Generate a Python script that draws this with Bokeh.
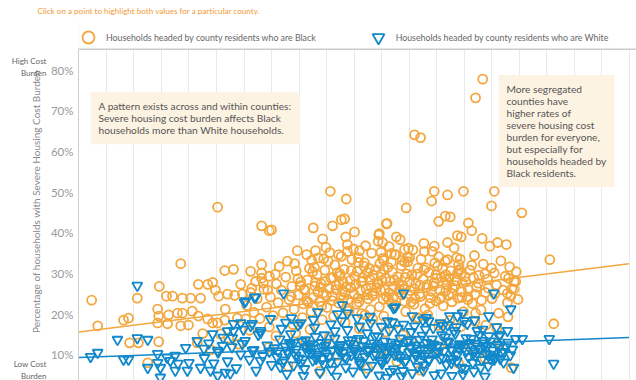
from bokeh.plotting import figure
from bokeh.models import (ColumnDataSource, Range1d, FixedTicker, PrintfTickFormatter,
                          Label, Legend, LegendItem, LinearAxis, Span, BoxAnnotation)
from bokeh.embed import file_html
from bokeh.resources import INLINE

# ---- data: x = county segregation index (0-100), y = % households with severe cost burden
black_x = [73.4,72.1,61.0,62.1,25.2,45.7,48.6,64.6,69.9,75.5,80.5,75.0,59.5,48.3,50.1,46.1,54.5,56.0,66.6,65.4,71.4,69.5,76.1,85.6,86.3,
    42.6,47.7,44.3,48.5,48.8,39.7,43.0,42.3,39.2,55.9,54.6,55.2,57.7,59.2,56.8,57.4,55.4,60.1,64.1,67.0,67.5,70.8,68.8,67.0,62.8,65.4,67.0,69.0,69.5,47.2,48.8,51.0,50.8,35.0,
    33.2,34.6,18.5,26.5,28.1,31.2,33.2,14.6,10.6,2.3,21.7,23.4,24.3,24.8,15.9,17.0,18.8,20.3,22.1,25.4,27.0,28.3,29.4,29.7,31.4,32.1,33.2,34.6,35.7,33.5,34.3,
    3.4,8.1,9.0,9.2,10.8,12.5,14.5,14.3,14.5,14.3,16.1,16.3,17.9,18.8,18.5,19.9,20.6,21.7,21.5,23.4,24.3,25.2,26.5,25.7,26.6,28.8,30.3,
    30.5,31.2,31.8,32.4,32.9,33.6,34.1,34.8,35.3,35.9,36.2,36.8,37.1,37.6,38.2,38.7,39.1,39.5,39.9,40.3,36.4,37.9,34.6,38.9,33.2,40.6,
    40.8,41.1,41.5,41.9,42.2,42.6,42.9,43.3,43.7,44.0,44.4,44.7,45.1,45.4,45.8,46.1,46.5,46.8,47.2,47.5,47.9,48.2,48.6,48.9,49.3,49.6,50.0,43.5,45.6,47.7,44.2,46.3,48.4,42.0,49.1,41.4,44.9,46.9,43.0,48.0,
    50.3,50.6,50.9,51.2,51.6,51.9,52.2,52.6,52.9,53.2,53.6,53.9,54.2,54.6,54.9,55.2,55.6,55.9,56.2,56.6,56.9,57.2,57.6,57.9,58.2,58.6,58.9,59.2,59.6,59.9,51.4,53.4,55.4,57.4,59.4,52.1,54.4,56.4,58.4,50.8,52.8,54.8,56.8,58.8,53.1,55.1,57.1,59.1,51.0,55.7,
    60.2,60.5,60.9,61.2,61.6,61.9,62.2,62.6,62.9,63.2,63.6,63.9,64.2,64.6,64.9,65.2,65.6,65.9,66.2,66.6,66.9,67.2,67.6,67.9,68.2,68.6,68.9,69.2,69.6,69.9,61.4,63.4,65.4,67.4,69.4,60.7,62.7,64.7,66.7,68.7,
    70.3,70.7,71.1,71.5,71.9,72.3,72.7,73.1,73.5,73.9,74.3,74.7,75.1,75.5,75.9,76.3,76.7,77.1,77.5,77.9,78.3,78.7,79.1,79.5,72.0,74.0,76.0,78.0,79.8,73.3,
    34.5,38.0,41.2,43.8,47.0,50.2,52.5,55.0,57.8,60.4,62.0,64.3,66.9,69.0,71.3,73.8,76.5,78.6,45.5,58.9,
    22.5,27.2,31.0,35.8,39.4,29.0,24.0,79.4,79.1,78.1,77.9,78.5,77.7,72.1,
    38.6,39.8,40.9,41.7,42.5,43.4,44.1,44.8,45.3,46.0,46.7,47.4,48.1,48.7,49.4,50.1,50.7,51.3,51.8,52.4,
    53.0,53.5,54.1,54.7,55.3,55.8,56.4,57.0,57.5,58.1,58.7,59.3,59.8,60.4,61.0,61.5,62.1,62.7,63.3,63.8,
    64.4,65.0,65.6,66.1,66.7,67.3,67.8,68.4,69.0,69.6,70.2,70.8,71.4,72.0,72.6,73.2,73.8,74.4,75.0,75.6,
    40.2,41.4,42.8,43.9,45.0,46.2,47.3,48.4,49.5,50.5,51.5,52.5,53.4,54.4,55.4,56.3,57.3,58.3,59.2,60.1,
    61.1,62.0,63.0,64.0,64.9,65.9,66.8,67.8,68.8,69.7,70.7,71.7,44.5,49.9,54.9,59.7,64.6,69.3,52.0,61.7]
black_y = [77.8,73.2,64.1,63.4,46.3,50.2,48.3,50.2,50.2,50.2,44.9,46.6,46.1,43.4,40.2,41.7,39.5,42.3,44.1,42.8,40.5,39.0,37.6,33.4,17.6,
    41.2,43.2,38.5,39.0,37.1,35.6,35.6,33.2,32.4,42.2,39.8,37.6,39.0,35.9,34.9,34.6,33.2,33.9,47.8,49.3,43.9,42.4,39.3,37.6,35.4,34.1,33.4,32.2,30.0,34.6,35.4,35.6,32.7,40.7,
    41.7,40.5,32.4,30.7,31.0,30.5,32.2,26.8,23.9,23.4,27.3,27.3,27.8,25.9,24.4,24.4,23.9,23.9,23.9,24.4,24.9,24.6,27.3,24.9,26.3,28.0,28.8,29.3,29.8,27.6,25.9,
    17.1,18.5,19.0,12.9,12.9,8.0,13.2,21.2,19.5,17.8,17.6,19.8,20.2,20.2,17.1,17.3,20.7,19.5,12.9,18.8,17.8,17.8,18.5,15.1,21.2,19.0,18.8,
    22.1,25.3,20.4,23.8,18.9,26.1,21.7,24.2,19.6,27.4,22.8,25.9,20.3,29.1,23.5,26.8,21.2,30.6,24.7,27.9,31.7,33.0,16.8,17.4,30.1,19.1,
    22.5,25.8,28.4,31.2,20.6,24.1,26.9,29.7,23.0,27.5,25.2,30.8,21.6,26.3,28.9,24.4,32.1,27.1,22.7,29.4,25.6,31.0,26.7,23.5,28.2,33.4,24.9,33.8,35.1,34.2,18.6,19.4,17.9,16.2,20.8,34.6,36.4,30.1,27.8,27.9,
    27.3,30.5,22.9,25.7,29.0,32.6,26.2,23.7,28.5,35.0,25.1,30.9,27.6,21.8,29.8,33.7,26.0,24.3,31.5,28.1,22.5,26.8,34.6,29.2,25.4,31.9,27.0,23.1,29.9,36.2,20.1,18.7,19.5,17.6,20.6,36.8,37.9,36.6,38.3,33.9,31.2,25.9,32.8,33.2,27.0,28.3,24.0,26.1,16.4,15.6,
    25.8,29.6,22.4,27.4,31.3,24.9,33.5,28.6,21.3,26.5,30.2,24.0,35.4,27.8,23.2,31.8,26.0,29.0,22.0,33.0,27.2,24.6,30.6,26.4,36.3,28.3,23.9,31.0,25.5,20.6,18.9,19.8,17.2,18.4,16.9,35.8,37.4,32.6,29.7,33.9,
    27.9,24.2,30.8,22.6,34.4,26.6,29.5,21.0,32.3,25.3,28.6,36.7,23.8,30.1,27.1,20.2,33.1,25.9,29.3,22.8,31.6,26.2,28.0,30.4,18.2,17.3,16.5,19.3,23.6,38.6,
    11.8,7.2,13.1,5.9,9.8,12.4,6.6,11.0,8.3,13.5,6.2,10.6,12.9,7.9,11.6,9.1,13.0,6.8,14.3,14.8,
    15.2,14.1,16.0,14.6,15.3,12.6,11.2,28.0,26.1,28.8,25.1,24.4,37.1,20.2,
    24.3,28.7,26.1,22.9,30.4,25.4,21.9,28.0,33.0,23.3,26.0,30.0,24.0,21.4,26.5,29.3,23.9,27.9,31.8,24.8,
    21.1,29.6,26.4,32.4,23.6,28.8,25.2,30.3,22.2,27.7,24.7,29.0,32.9,22.9,26.2,29.8,24.3,30.9,27.2,22.6,
    26.9,28.8,23.7,31.2,25.7,28.9,23.0,27.0,30.6,24.1,29.2,26.0,32.0,24.9,27.6,23.4,29.9,26.4,31.3,25.0,
    27.0,23.2,31.5,26.6,24.6,29.0,27.4,25.3,30.7,22.4,28.1,30.2,24.5,27.3,31.0,23.6,28.4,26.1,32.8,28.0,
    23.8,27.1,31.4,25.6,29.6,24.2,28.4,25.0,29.9,27.6,23.5,29.0,33.6,36.0,35.2,34.0,36.7,33.5,19.8,19.1]

white_x = [2.1,3.4,7.0,8.1,9.0,10.6,12.5,12.5,14.3,14.3,14.8,16.0,17.5,18.0,19.4,20.0,17.5,14.8,10.6,
    21.5,22.7,24.3,25.2,26.1,27.0,28.1,27.9,29.7,31.2,31.5,33.0,33.0,22.1,23.9,25.2,27.5,19.7,16.6,30.3,32.1,
    31.9,37.2,30.1,43.4,47.9,48.8,47.0,50.6,57.2,38.6,40.3,34.8,33.0,31.5,29.4,28.1,
    59.0,57.5,75.4,78.5,74.5,71.9,69.7,68.8,67.4,70.0,75.9,77.9,76.5,79.4,80.6,85.5,86.3,79.0,76.6,74.8,73.0,74.5,73.4,72.1,60.6,62.5,63.6,65.7,67.0,56.1,
    22.8,23.6,24.5,25.3,26.2,27.0,27.8,28.6,29.4,30.2,31.0,31.8,32.6,33.4,34.2,35.0,34.6,29.9,26.6,32.2,
    35.5,36.0,36.5,37.0,37.5,38.0,38.5,39.0,39.5,40.0,40.5,41.0,41.5,42.0,42.5,43.0,43.5,44.0,44.5,45.0,45.5,46.0,46.5,47.0,47.5,48.0,48.5,49.0,49.5,50.0,36.8,39.8,42.8,45.8,48.8,37.8,40.8,43.8,46.8,49.8,38.3,41.3,44.3,47.3,44.8,42.2,
    50.4,50.8,51.2,51.6,52.0,52.4,52.8,53.2,53.6,54.0,54.4,54.8,55.2,55.6,56.0,56.4,56.8,57.2,57.6,58.0,58.4,58.8,59.2,59.6,60.0,60.4,60.8,61.2,61.6,62.0,62.4,62.8,63.2,63.6,64.0,64.4,64.8,51.0,53.0,55.0,57.0,59.0,61.0,63.0,52.2,54.6,56.6,58.6,60.6,62.6,64.6,53.4,55.8,58.2,60.2,62.2,64.2,
    65.2,65.6,66.0,66.4,66.8,67.2,67.6,68.0,68.4,68.8,69.2,69.6,70.0,70.4,70.8,71.2,71.6,72.0,72.4,72.8,73.2,73.6,74.0,74.4,74.8,75.2,75.6,76.0,76.4,76.8,77.2,77.6,78.0,78.4,78.8,66.2,68.6,70.6,65.8,67.8,69.8,71.8,73.8,
    36.2,37.3,38.4,39.4,40.3,41.2,42.1,43.1,44.0,44.9,45.7,46.5,47.4,48.3,49.2,50.1,50.9,51.8,52.6,53.5,
    54.3,55.1,56.0,56.8,57.7,58.5,59.4,60.2,61.1,61.9,62.8,63.6,64.5,65.3,66.2,67.0,67.9,68.7,69.6,70.4,
    71.3,72.1,73.0,73.8,74.7,75.5,76.4,77.3,
    36.6,37.9,39.1,40.7,41.9,43.3,44.6,45.9,47.1,48.6,49.7,51.1,52.3,53.8,55.0,56.3,57.4,58.9,60.0,61.4,
    62.6,64.1,65.1,66.6,67.7,69.1,70.2,71.6,72.8,74.2,75.3,37.6,42.6,47.7,52.9,58.0,63.1,68.2,73.4,55.9]
white_y = [9.5,10.5,13.7,8.8,8.8,14.1,13.7,6.8,10.2,8.0,6.8,9.3,9.8,7.8,11.7,8.0,6.1,4.4,27.0,
    13.4,11.5,15.1,11.0,12.2,15.8,17.6,14.1,12.7,17.1,11.0,15.4,8.5,6.8,6.1,4.9,5.4,6.1,8.5,23.2,24.1,
    24.1,25.1,22.9,20.5,22.2,20.2,20.0,19.0,21.5,19.0,17.8,18.8,15.9,17.6,17.8,15.9,
    25.1,21.7,25.1,21.2,19.5,18.5,20.2,19.5,19.5,18.3,16.8,15.9,14.9,13.9,13.9,13.9,7.8,6.8,9.0,9.0,6.8,14.6,13.4,12.7,19.5,18.5,18.3,17.8,17.3,18.3,
    9.2,12.8,7.9,10.6,14.2,8.4,11.9,6.7,10.1,13.4,8.8,11.2,14.9,9.7,12.3,7.5,10.8,16.2,5.6,6.1,
    11.6,9.4,13.8,8.1,12.0,10.3,15.1,7.4,11.3,9.1,13.2,6.5,10.7,12.6,8.6,14.4,10.0,11.8,7.7,13.0,9.6,11.1,15.8,8.3,12.4,10.5,6.9,13.6,9.9,11.5,16.4,17.2,16.7,17.5,16.1,5.3,4.8,5.6,4.6,5.9,12.9,11.9,9.0,10.9,12.2,10.4,
    10.2,13.9,8.0,12.1,9.5,15.3,11.0,7.3,12.8,10.0,14.4,8.7,11.7,13.3,9.2,16.0,10.8,6.4,12.5,9.8,14.0,11.4,8.2,13.1,10.6,15.6,9.0,12.3,7.0,11.0,14.7,9.6,12.9,8.5,11.6,16.6,10.4,17.0,17.8,16.9,18.0,17.4,17.0,16.2,5.6,4.9,5.8,4.7,5.5,6.1,5.0,11.9,10.9,12.7,11.8,10.2,13.8,
    12.2,9.1,14.8,10.9,7.6,13.0,11.3,8.9,15.2,10.0,12.6,6.8,11.7,14.1,9.4,12.9,8.0,10.8,15.9,11.5,8.7,12.0,10.2,7.2,13.3,11.1,9.3,12.4,14.5,10.5,8.1,11.9,13.0,9.9,11.3,17.1,16.8,17.6,5.4,4.8,5.2,5.9,4.6,
    10.9,8.6,12.4,9.8,7.9,13.6,11.5,9.0,12.9,10.3,8.1,14.0,11.9,9.4,12.7,10.7,8.5,13.4,11.2,9.9,
    12.2,7.8,10.4,13.0,11.7,9.3,8.6,12.0,10.1,13.7,11.3,8.9,12.5,10.6,9.2,13.3,11.0,8.4,12.3,10.9,
    13.9,9.7,11.4,12.8,10.0,8.8,11.8,10.7,
    7.0,11.0,13.0,8.8,12.1,9.5,14.8,6.3,11.4,9.1,13.5,7.6,10.9,14.6,8.3,12.0,10.0,6.0,13.6,9.7,
    7.4,12.6,10.8,14.3,8.0,11.6,6.5,10.3,14.9,12.1,9.6,17.9,18.6,18.3,19.4,16.4,19.1,15.9,16.2,4.3]

trend_x = [0, 100]
black_trend = [15.6, 32.4]
white_trend = [9.3, 14.2]

y_ticks = [10, 20, 30, 40, 50, 60, 70, 80]
x_grid = list(range(0, 101, 5))
chart_top = 85.13
burden_ticks = [80.7, 3.9]
burden_labels = ["High Cost\nBurden", "Low Cost\nBurden"]

ORANGE = "#f3a73f"
BLUE = "#1189ca"
FONT = "Lato"
subtitle = "Click on a point to highlight both values for a particular county."

p = figure(width=636, height=380, output_backend="svg", toolbar_location=None, title=subtitle,
           x_range=Range1d(-0.09, 101.36), y_range=Range1d(3.64, 91.74),
           min_border_left=78, min_border_right=0, min_border_top=20, min_border_bottom=0)
p.outline_line_color = None
p.background_fill_color = "white"
p.title.align = "left"
p.title.offset = -41
p.title.standoff = 10
p.title.vertical_align = "top"
p.title.text_font = FONT
p.title.text_font_size = "8.1px"
p.title.text_font_style = "normal"
p.title.text_color = "#f09a35"

p.xaxis.visible = False
p.xgrid.ticker = FixedTicker(ticks=x_grid)
p.xgrid.grid_line_color = "#e9e9e9"
p.ygrid.grid_line_color = None
# hide grid above the chart's top rule (legend strip)
p.add_layout(BoxAnnotation(bottom=chart_top, fill_color="white", fill_alpha=1.0,
                           line_color=None, level="underlay"))
p.add_layout(Span(location=chart_top, dimension="width", line_color="#cccccc", line_width=1.5))

ax = p.yaxis[0]
ax.ticker = FixedTicker(ticks=y_ticks)
ax.formatter = PrintfTickFormatter(format="%d%%")
ax.bounds = (0, chart_top)
ax.axis_line_color = "#cfcfcf"
ax.major_tick_line_color = None
ax.minor_tick_line_color = None
ax.major_tick_out = 0
ax.major_tick_in = 0
ax.minor_tick_out = 0
ax.major_label_text_font = FONT
ax.major_label_text_font_size = "11.5px"
ax.major_label_text_color = "#9a9a9a"
ax.major_label_standoff = 5
ax.axis_label = "Percentage of households with Severe Housing Cost Burden"
ax.axis_label_text_font = FONT
ax.axis_label_text_font_size = "10px"
ax.axis_label_text_font_style = "normal"
ax.axis_label_text_color = "#8a8a8a"
ax.axis_label_standoff = 6

ax2 = LinearAxis(ticker=FixedTicker(ticks=burden_ticks),
                 major_label_overrides=dict(zip(burden_ticks, burden_labels)),
                 axis_line_color=None, major_tick_line_color=None, minor_tick_line_color=None,
                 major_tick_out=0, major_tick_in=0, minor_tick_out=0,
                 major_label_standoff=-20, major_label_text_font=FONT,
                 major_label_text_font_size="8px", major_label_text_color="#666666")
p.add_layout(ax2, "left")

bsrc = ColumnDataSource(dict(x=black_x, y=black_y))
wsrc = ColumnDataSource(dict(x=white_x, y=white_y))

p.line(trend_x, black_trend, line_color=ORANGE, line_width=1.5)
rb = p.scatter("x", "y", source=bsrc, marker="circle", size=9, fill_color=None,
               line_color=ORANGE, line_width=1.8)
rw = p.scatter("x", "y", source=wsrc, marker="inverted_triangle", size=10, fill_color=None,
               line_color=BLUE, line_width=1.8)
p.line(trend_x, white_trend, line_color=BLUE, line_width=1.5)

legend = Legend(items=[LegendItem(label="Households headed by county residents who are Black", renderers=[rb]),
                       LegendItem(label="Households headed by county residents who are White", renderers=[rw])],
                orientation="horizontal", location=(-5, 328), spacing=47,
                glyph_width=30, glyph_height=30, label_standoff=3, padding=0, margin=0,
                border_line_color=None, background_fill_alpha=0,
                label_text_font=FONT, label_text_font_size="8.8px", label_text_color="#666666")
p.add_layout(legend)

note1 = "A pattern exists across and within counties:\nSevere housing cost burden affects Black\nhouseholds more than White households."
note2 = ("More segregated\ncounties have\nhigher rates of\nsevere housing cost\nburden for everyone,\n"
         "but especially for\nhouseholds headed by\nBlack residents.")
p.add_layout(Label(x=2.09, y=74.6, text=note1, text_font=FONT, text_font_size="10.2px", text_color="#555555",
                   text_baseline="top", text_line_height=1.0, background_fill_color="#fdf3e3", padding=8))
p.add_layout(Label(x=76.27, y=78.8, text=note2, text_font=FONT, text_font_size="10.2px", text_color="#555555",
                   text_baseline="top", text_line_height=1.0, background_fill_color="#fdf3e3", padding=8))

open("out.html", "w").write(file_html(p, INLINE))
